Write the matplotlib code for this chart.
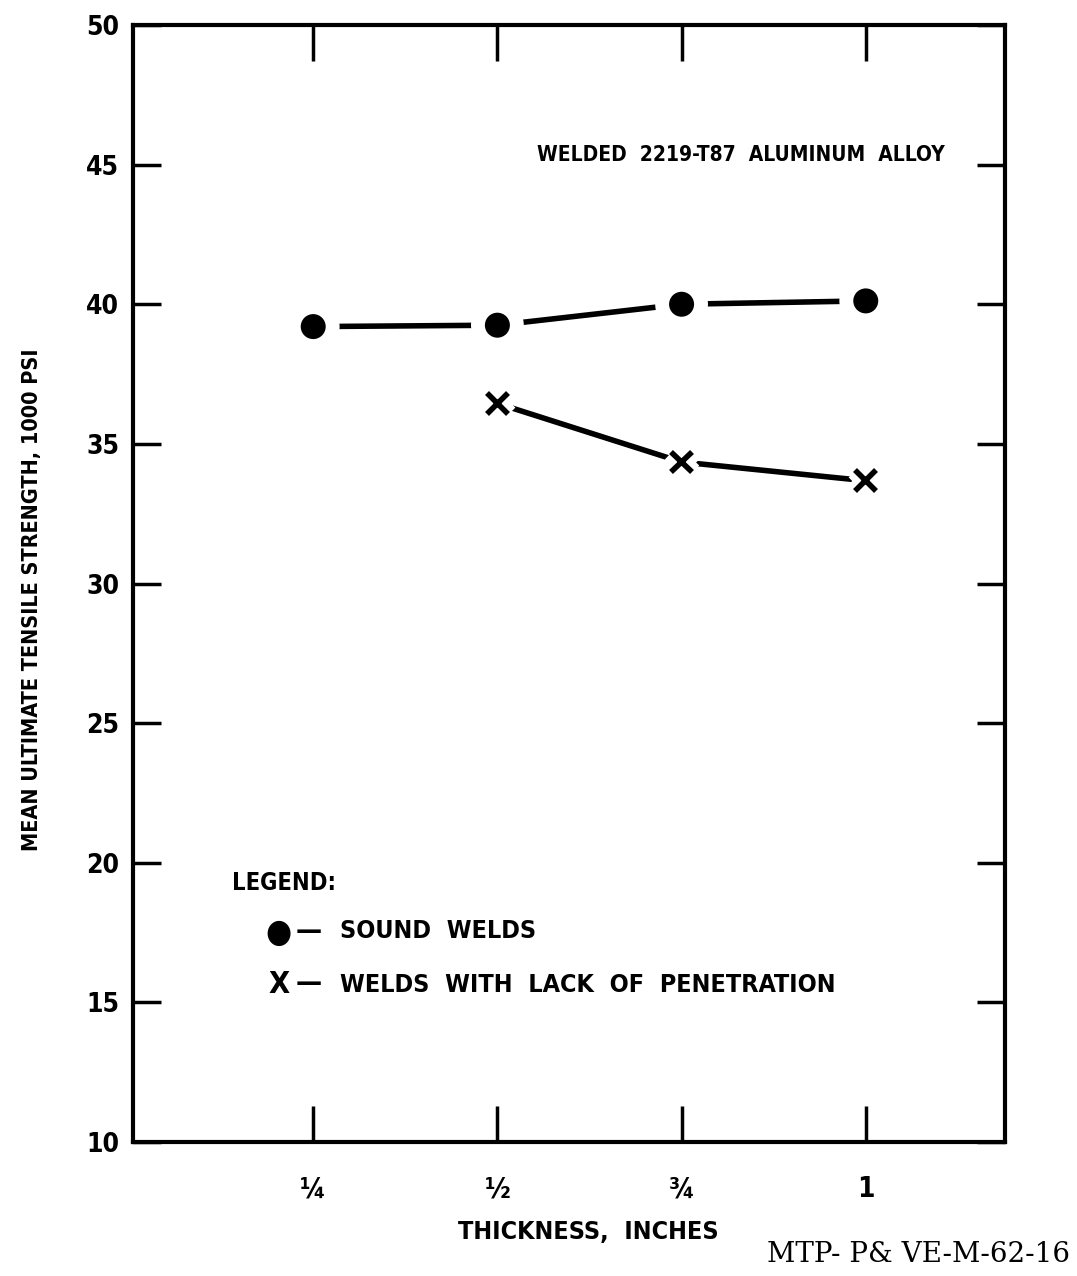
import matplotlib
matplotlib.use("Agg")
import matplotlib.pyplot as plt
import matplotlib.patheffects as pe

# Data
thickness = [0.25, 0.5, 0.75, 1.0]
tick_labels = ["\u00bc", "\u00bd", "\u00be", "1"]
sound_x = [0.25, 0.5, 0.75, 1.0]
sound_y = [39.2, 39.25, 40.0, 40.12]
lop_x = [0.5, 0.75, 1.0]
lop_y = [36.45, 34.35, 33.68]
y_ticks = [10, 15, 20, 25, 30, 35, 40, 45, 50]

FAM = ["DejaVu Sans"]
ST = "condensed"
txt = dict(family=FAM, stretch=ST, fontweight="bold")

fig = plt.figure(figsize=(10.77, 12.76), dpi=100)
ax = fig.add_axes([133 / 1077, 1 - 1142 / 1276, 872 / 1077, 1117 / 1276])

# lines first, markers on top with a white halo so the lines stop short
ax.plot(sound_x, sound_y, color="black", lw=4, solid_capstyle="round", zorder=2)
ax.plot(lop_x, lop_y, color="black", lw=4, solid_capstyle="round", zorder=2)
ax.plot(sound_x, sound_y, "o", color="black", ms=18, mew=0, zorder=3,
        path_effects=[pe.withStroke(linewidth=20, foreground="white")])
ax.plot(lop_x, lop_y, "x", color="black", ms=15, mew=4, zorder=3,
        path_effects=[pe.withStroke(linewidth=14, foreground="white")])

ax.set_xlim(0.0054, 1.189)
ax.set_ylim(10, 50)
ax.set_xticks(thickness)
ax.set_xticklabels(tick_labels)
ax.set_yticks(y_ticks)

for s in ax.spines.values():
    s.set_linewidth(3)
ax.tick_params(axis="both", direction="in", top=True, right=True,
               length=20, width=2.5)
ax.tick_params(axis="x", length=26, pad=24)
ax.tick_params(axis="y", pad=10)
for lab in ax.get_xticklabels():
    lab.set_family(FAM)
    lab.set_fontstretch(ST)
    lab.set_fontweight("bold")
    lab.set_fontsize(20)
for lab in ax.get_yticklabels():
    lab.set_family(FAM)
    lab.set_fontstretch(ST)
    lab.set_fontweight("bold")
    lab.set_fontsize(19)

fig.text(588 / 1077, 1 - 1232 / 1276, "THICKNESS,  INCHES", ha="center",
         va="center", fontsize=18, **txt)
fig.text(32 / 1077, 1 - 600 / 1276, "MEAN ULTIMATE TENSILE STRENGTH, 1000 PSI",
         rotation=90, ha="center", va="center", fontsize=15.5, **txt)

ax.text(0.463, 0.884, "WELDED  2219-T87  ALUMINUM  ALLOY", transform=ax.transAxes,
        fontsize=15, va="center", **txt)

# legend drawn as text, like the original
ax.text(0.113, 0.232, "LEGEND:", transform=ax.transAxes, fontsize=17,
        va="center", **txt)
ax.text(0.167, 0.188, "\u25cf", transform=ax.transAxes, fontsize=24,
        va="center", ha="center", **txt)
ax.text(0.167, 0.141, "X", transform=ax.transAxes, fontsize=22,
        va="center", ha="center", **txt)
for yy in (0.189, 0.142):
    ax.text(0.187, yy, "\u2014", transform=ax.transAxes, fontsize=21,
            va="center", **txt)
ax.text(0.237, 0.189, "SOUND  WELDS", transform=ax.transAxes, fontsize=18,
        va="center", **txt)
ax.text(0.237, 0.141, "WELDS  WITH  LACK  OF  PENETRATION",
        transform=ax.transAxes, fontsize=18, va="center", **txt)

fig.text(1070 / 1077, 1 - 1255 / 1276, "MTP- P& VE-M-62-16", ha="right",
         va="center", family=["DejaVu Serif"], fontsize=20)

fig.savefig("out.png", dpi=100)
